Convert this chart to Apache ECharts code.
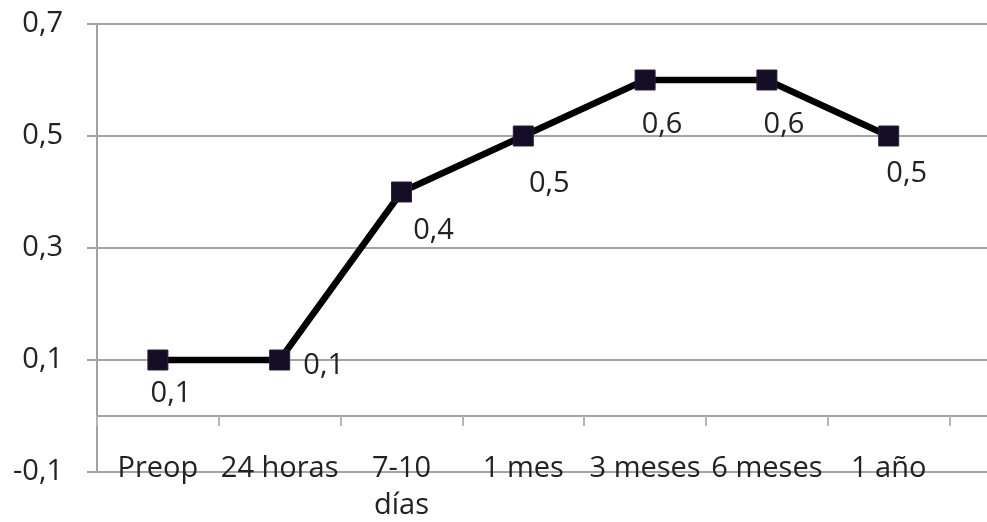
<!DOCTYPE html>
<html>
<head>
<meta charset="utf-8">
<script src="https://cdn.jsdelivr.net/npm/echarts@6/dist/echarts.min.js"></script>
<style>
html,body{margin:0;padding:0;background:#fff;}
#chart{width:987px;height:522px;}
</style>
</head>
<body>
<div id="chart"></div>
<script>
// ---- data ----
var categories = ['Preop', '24 horas', '7-10\ndías', '1 mes', '3 meses', '6 meses', '1 año'];
var values = [0.1, 0.1, 0.4, 0.5, 0.6, 0.6, 0.5];
var yTicks = [-0.1, 0.1, 0.3, 0.5, 0.7];

// ---- layout (label offsets from each point, px) ----
var labelOffsets = [[13, 34], [44, 6], [32, 39], [26, 48], [17, 45], [17, 45], [18, 38]];

var fmt = function (v) { return Number(v).toFixed(1).replace('.', ','); };
var FONT = 'Open Sans';
var TXT = '#222222';
var GRID = '#a3a3a3';

var seriesData = values.map(function (v, i) {
  return {
    value: v,
    label: { offset: labelOffsets[i] }
  };
});

var chart = echarts.init(document.getElementById('chart'), null, { renderer: 'canvas' });
chart.setOption({
  animation: false,
  backgroundColor: '#ffffff',
  grid: { left: 97, top: 24, width: 974.4, height: 448, containLabel: false, outerBoundsMode: 'none' },
  xAxis: {
    type: 'category',
    data: categories,
    max: categories.length,
    boundaryGap: true,
    axisLine: { onZero: true, lineStyle: { color: GRID, width: 2 } },
    axisTick: { show: true, length: 10, lineStyle: { color: '#b5b5b5', width: 2 } },
    axisLabel: {
      margin: -22,
      fontFamily: FONT, fontSize: 29, color: TXT, lineHeight: 37,
      interval: 0,
      formatter: function (v) { return v == null ? '' : v; }
    },
    splitLine: { show: false }
  },
  yAxis: {
    type: 'value',
    min: yTicks[0],
    max: yTicks[yTicks.length - 1],
    interval: 0.2,
    axisLine: { show: true, lineStyle: { color: GRID, width: 2 } },
    axisTick: { show: true, length: 10, lineStyle: { color: GRID, width: 2 } },
    axisLabel: { margin: 34, fontFamily: FONT, fontSize: 29, color: TXT, formatter: fmt },
    splitLine: { show: true, lineStyle: { color: GRID, width: 2 } }
  },
  series: [{
    type: 'line',
    data: seriesData,
    symbol: 'rect',
    symbolSize: 20,
    lineStyle: { color: '#000000', width: 6.5 },
    itemStyle: { color: '#150d25', borderColor: '#2a1f40', borderWidth: 1 },
    label: {
      show: true,
      position: 'inside',
      fontFamily: FONT, fontSize: 29, color: TXT,
      formatter: function (p) { return fmt(p.value); }
    },
    z: 3
  }]
});
</script>
</body>
</html>
